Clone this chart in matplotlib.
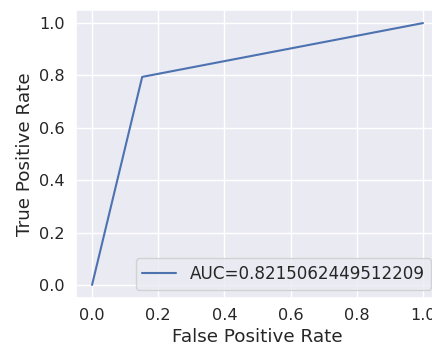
import matplotlib
matplotlib.use("Agg")
import matplotlib.pyplot as plt
import seaborn as sns

# ROC points and the area under them
fpr = [0.0, 0.1515, 1.0]
tpr = [0.0, 0.7945, 1.0]
auc = 0.8215062449512209

sns.set_theme(font_scale=1.1)
plt.rcParams.update({
    "xtick.major.size": 0, "ytick.major.size": 0,
    "xtick.major.pad": 7.5, "ytick.major.pad": 7.5,
    "xtick.labelsize": 11.6, "ytick.labelsize": 11.6,
})

fig = plt.figure(figsize=(4.32, 3.47), dpi=100)
ax = fig.add_axes([0.1748, 0.1412, 0.8426, 0.830])
ax.plot(fpr, tpr, label="AUC=" + str(auc))
ax.set_xlim(-0.05, 1.05)
ax.set_ylim(-0.05, 1.05)
ax.set_xlabel("False Positive Rate", labelpad=3)
ax.set_ylabel("True Positive Rate")
ax.legend(loc=4, fontsize=12.1)

fig.savefig("out.png", dpi=100)
